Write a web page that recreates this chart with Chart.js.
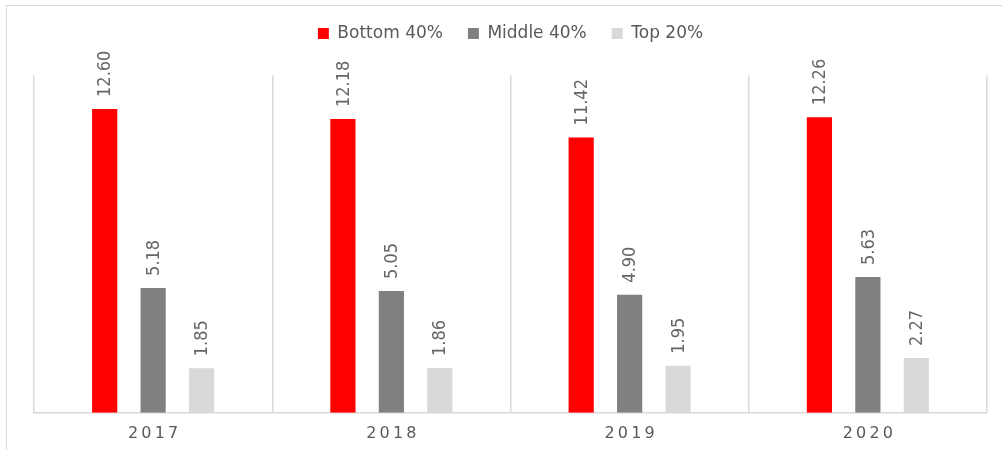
<!DOCTYPE html>
<html>
<head>
<meta charset="utf-8">
<script src="https://cdn.jsdelivr.net/npm/chart.js@4.4.1/dist/chart.umd.min.js"></script>
<style>
  html, body { margin: 0; padding: 0; background: #fff; overflow: hidden; }
  #wrap { position: relative; width: 1002px; height: 450px; overflow: hidden; }
  #frame { position: absolute; left: 6px; top: 5px; right: 0; bottom: 0; border-top: 1.5px solid #d9d9d9; border-left: 1.5px solid #d9d9d9; }
  canvas { position: absolute; left: 0; top: 0; }
</style>
</head>
<body>
<div id="wrap">
  <div id="frame"></div>
  <canvas id="chart" width="1002" height="450"></canvas>
</div>
<script>
const years = ['2017', '2018', '2019', '2020'];
const bottom40 = [12.60, 12.18, 11.42, 12.26];
const middle40 = [5.18, 5.05, 4.90, 5.63];
const top20 = [1.85, 1.86, 1.95, 2.27];

const FONT = "'DejaVu Sans', sans-serif";
const LABEL_FONT = "'Liberation Sans Narrow', 'DejaVu Sans Condensed', sans-serif";
const TEXT = '#595959';

// rotated value labels above each bar
const barLabels = {
    id: 'barLabels',
    afterDatasetsDraw(chart) {
        const ctx = chart.ctx;
        ctx.save();
        ctx.font = '18px ' + LABEL_FONT;
        ctx.fillStyle = '#666';
        ctx.textAlign = 'left';
        ctx.textBaseline = 'middle';
        chart.data.datasets.forEach((ds, i) => {
            chart.getDatasetMeta(i).data.forEach((bar, j) => {
                ctx.save();
                ctx.translate(bar.x + 1, bar.y - 12);
                ctx.rotate(-Math.PI / 2);
                ctx.fillText(ds.data[j].toFixed(2), 0, 0);
                ctx.restore();
            });
        });
        ctx.restore();
    }
};

new Chart(document.getElementById('chart'), {
    type: 'bar',
    data: {
        labels: years,
        datasets: [
            { label: 'Bottom 40%', data: bottom40, backgroundColor: '#ff0000' },
            { label: 'Middle 40%', data: middle40, backgroundColor: '#808080' },
            { label: 'Top 20%', data: top20, backgroundColor: '#d9d9d9' }
        ]
    },
    options: {
        responsive: false,
        animation: false,
        layout: { padding: { left: 34, right: 15, top: 0, bottom: -4 } },
        datasets: {
            bar: { categoryPercentage: 0.61, barPercentage: 0.52 }
        },
        scales: {
            x: {
                grid: { offset: true, color: '#d9d9d9', lineWidth: 1.5, drawTicks: false },
                border: { color: '#d9d9d9', width: 1.5 },
                ticks: {
                    padding: 11,
                    color: TEXT,
                    font: { family: FONT, size: 16 },
                    // spaced-out year labels
                    callback: function (v) { return this.getLabelForValue(v).split('').join('\u2009'); }
                }
            },
            y: { display: false, min: 0, max: 14 }
        },
        plugins: {
            legend: {
                position: 'top',
                labels: {
                    boxWidth: 11,
                    boxHeight: 11,
                    padding: 25,
                    color: TEXT,
                    font: { family: FONT, size: 17 }
                }
            },
            // empty spacer between legend and plot area
            title: {
                display: true,
                text: '',
                weight: 500,
                font: { size: 1 },
                padding: { top: 0, bottom: 22 }
            },
            tooltip: { enabled: false }
        }
    },
    plugins: [barLabels]
});
</script>
</body>
</html>
